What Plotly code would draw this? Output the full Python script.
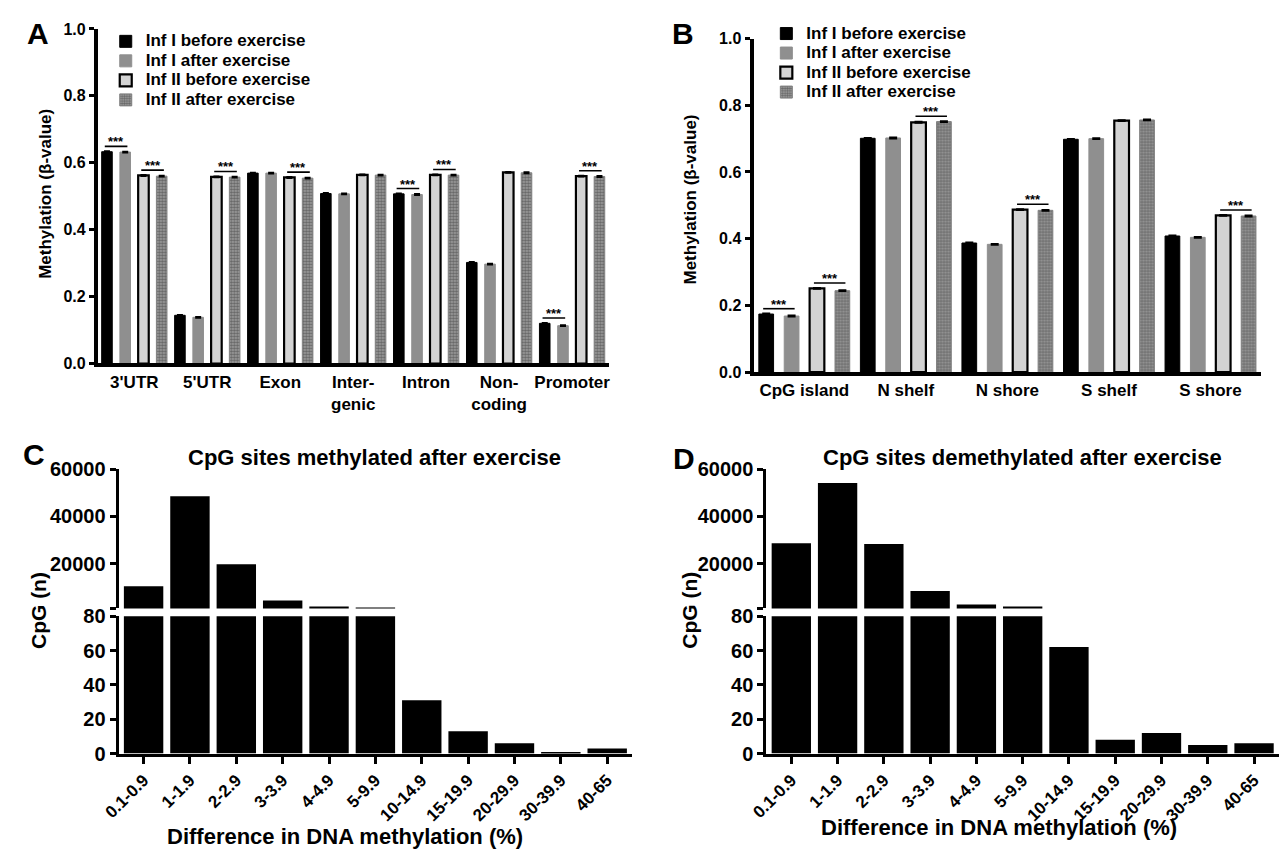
import plotly.graph_objects as go

W, H = 1282, 864
FONT = "Liberation Sans, Arial, sans-serif"

# ---------------- data ----------------
series = ["Inf I before exercise", "Inf I after exercise",
          "Inf II before exercise", "Inf II after exercise"]

regions = ["3'UTR", "5'UTR", "Exon", "Intergenic", "Intron", "Non-coding", "Promoter"]
region_ticks = ["3'UTR", "5'UTR", "Exon", "Inter-<br>genic", "Intron", "Non-<br>coding", "Promoter"]
a_inf1_before = [0.633, 0.144, 0.569, 0.508, 0.507, 0.302, 0.120]
a_inf1_after = [0.632, 0.138, 0.569, 0.507, 0.505, 0.297, 0.113]
a_inf2_before = [0.562, 0.558, 0.556, 0.564, 0.564, 0.571, 0.560]
a_inf2_after = [0.560, 0.557, 0.554, 0.563, 0.563, 0.570, 0.559]
a_sem = [0.002, 0.002, 0.002, 0.002, 0.002, 0.002, 0.002]

islands = ["CpG island", "N shelf", "N shore", "S shelf", "S shore"]
b_inf1_before = [0.174, 0.701, 0.387, 0.698, 0.408]
b_inf1_after = [0.168, 0.702, 0.383, 0.700, 0.404]
b_inf2_before = [0.251, 0.749, 0.487, 0.754, 0.470]
b_inf2_after = [0.244, 0.751, 0.485, 0.756, 0.468]
b_sem = [0.002, 0.002, 0.002, 0.002, 0.002]

# significant pairs: (category, first bar of pair: 0 = Inf I pair, 2 = Inf II pair)
sig_a = [("3'UTR", 0), ("3'UTR", 2), ("5'UTR", 2), ("Exon", 2),
         ("Intron", 0), ("Intron", 2), ("Promoter", 0), ("Promoter", 2)]
sig_b = [("CpG island", 0), ("CpG island", 2), ("N shelf", 2),
         ("N shore", 2), ("S shore", 2)]

bins = ["0.1-0.9", "1-1.9", "2-2.9", "3-3.9", "4-4.9", "5-9.9",
        "10-14.9", "15-19.9", "20-29.9", "30-39.9", "40-65"]
cpg_methylated = [10400, 48500, 19700, 4300, 1800, 1400, 31, 13, 6, 1, 3]
cpg_demethylated = [28600, 54100, 28300, 8400, 2600, 1800, 62, 8, 12, 5, 6]

# ---------------- helpers ----------------
def fx(x):
    return x / W

def fy(y):
    return 1 - y / H

def tf(size):
    return dict(family=FONT, size=size, color="black", weight="bold")

styles = [
    dict(color="#000000", line=dict(color="#000000", width=1)),
    dict(color="#8f8f8f", line=dict(color="#8f8f8f", width=1)),
    dict(color="#d3d3d3", line=dict(color="#000000", width=2.2)),
    dict(color="#8a8a8a", line=dict(color="#808080", width=1),
         pattern=dict(shape=".", fgcolor="#2e2e2e", bgcolor="#a0a0a0", size=3, solidity=0.55)),
]

def legend_name(s):
    return '<span style="font-size:17px">' + s + '</span>'

fig = go.Figure()

a_sets = [a_inf1_before, a_inf1_after, a_inf2_before, a_inf2_after]
b_sets = [b_inf1_before, b_inf1_after, b_inf2_before, b_inf2_after]

for i in range(4):
    fig.add_trace(go.Bar(
        x=regions, y=a_sets[i], name=legend_name(series[i]), marker=styles[i],
        error_y=dict(type="data", array=a_sem, color="black", thickness=1.5, width=3),
        xaxis="x", yaxis="y", legend="legend"))
for i in range(4):
    fig.add_trace(go.Bar(
        x=islands, y=b_sets[i], name=legend_name(series[i]), marker=styles[i],
        error_y=dict(type="data", array=b_sem, color="black", thickness=1.5, width=4),
        xaxis="x2", yaxis="y2", legend="legend2"))

for data, xl, yl, xu, yu in [(cpg_methylated, "x3", "y3", "x4", "y4"),
                             (cpg_demethylated, "x5", "y5", "x6", "y6")]:
    for xa, ya in [(xl, yl), (xu, yu)]:
        fig.add_trace(go.Bar(x=bins, y=data, width=0.85, showlegend=False,
                             marker=dict(color="black", line=dict(width=0)),
                             xaxis=xa, yaxis=ya))

# significance brackets
shapes = []
annotations = []

def bracket(cats, sets, cat, k, xref, yref, pad):
    idx = cats.index(cat)
    c1 = idx - 0.375 + 0.25 * k
    c2 = c1 + 0.25
    level = max(sets[k][idx], sets[k + 1][idx]) + pad
    shapes.append(dict(type="line", xref=xref, yref=yref, x0=c1 - 0.03, x1=c2 + 0.03,
                       y0=level, y1=level, line=dict(color="black", width=1.6)))
    annotations.append(dict(xref=xref, yref=yref, x=(c1 + c2) / 2, y=level, text="***",
                            showarrow=False, yanchor="bottom", yshift=-5,
                            font=dict(family=FONT, size=13, color="black", weight="bold")))

for cat, k in sig_a:
    bracket(regions, a_sets, cat, k, "x", "y", 0.016)
for cat, k in sig_b:
    bracket(islands, b_sets, cat, k, "x2", "y2", 0.016)

def text(x, y, s, size, angle=0):
    annotations.append(dict(xref="paper", yref="paper", x=fx(x), y=fy(y), text=s,
                            showarrow=False, xanchor="center", yanchor="middle",
                            textangle=angle, font=tf(size)))

text(21, 23, "A", 30)
text(675, 23, "B", 30)
text(17, 455, "C", 30)
text(676, 459, "D", 30)
text(29, 188, "Methylation (β-value)", 17, -90)
text(683, 193, "Methylation (β-value)", 17, -90)
text(22, 615, "CpG (n)", 21, -90)
text(682, 615, "CpG (n)", 21, -90)
text(363, 458, "CpG sites methylated after exercise", 22)
text(1020, 458, "CpG sites demethylated after exercise", 22)
text(333, 847, "Difference in DNA methylation (%)", 22)
text(996, 838, "Difference in DNA methylation (%)", 22)

axis_common = dict(showgrid=False, zeroline=False, linecolor="black", tickcolor="black")

layout = dict(
    width=W, height=H, margin=dict(l=0, r=0, t=0, b=0),
    paper_bgcolor="white", plot_bgcolor="white",
    font=dict(family=FONT, color="black", weight="bold"),
    barmode="group", bargap=0.0, bargroupgap=0.42,
    shapes=shapes, annotations=annotations,
    legend=dict(x=fx(90), y=fy(16), xanchor="left", yanchor="top",
                font=tf(12.7), bgcolor="rgba(0,0,0,0)", tracegroupgap=0),
    legend2=dict(x=fx(760), y=fy(8), xanchor="left", yanchor="top",
                 font=tf(12.7), bgcolor="rgba(0,0,0,0)", tracegroupgap=0),
    # Panel A
    xaxis=dict(axis_common, domain=[fx(82), fx(600)], anchor="y", type="category",
               categoryorder="array", categoryarray=regions, range=[-0.5, 6.5],
               tickmode="array", tickvals=regions, ticktext=region_ticks,
               showline=True, linewidth=4, ticks="", tickfont=tf(17)),
    yaxis=dict(axis_common, domain=[fy(361.7), fy(18.4)], anchor="x", range=[0, 1.0],
               tickvals=[0, 0.2, 0.4, 0.6, 0.8, 1.0], tickformat=".1f",
               showline=True, linewidth=4, ticks="outside", ticklen=5, tickwidth=3,
               tickfont=tf(16)),
    # Panel B
    xaxis2=dict(axis_common, domain=[fx(747), fx(1262)], anchor="y2", type="category",
                categoryorder="array", categoryarray=islands, range=[-0.5, 4.5],
                showline=True, linewidth=4, ticks="", tickfont=tf(17)),
    yaxis2=dict(axis_common, domain=[fy(370.5), fy(28.3)], anchor="x2", range=[0, 1.0],
                tickvals=[0, 0.2, 0.4, 0.6, 0.8, 1.0], tickformat=".1f",
                showline=True, linewidth=4, ticks="outside", ticklen=5, tickwidth=3,
                tickfont=tf(16)),
)

def hist_axes(xdom, xl, yl, xu, yu):
    xlow = dict(axis_common, domain=xdom, anchor=yl, type="category",
                categoryorder="array", categoryarray=bins, range=[-0.54, 10.54],
                showline=True, linewidth=3, ticks="outside", ticklen=7, tickwidth=3,
                tickangle=-45, tickfont=tf(17))
    xup = dict(axis_common, domain=xdom, anchor=yu, type="category",
               categoryorder="array", categoryarray=bins, range=[-0.54, 10.54],
               showline=False, showticklabels=False, ticks="")
    ylow = dict(axis_common, domain=[fy(762), fy(621)], anchor=xl, range=[0, 80],
                tickvals=[0, 20, 40, 60, 80], showline=True, linewidth=3,
                ticks="outside", ticklen=6, tickwidth=3, tickfont=tf(20))
    yup = dict(axis_common, domain=[fy(613), fy(470)], anchor=xu, range=[1000, 60000],
               tickvals=[1000, 20000, 40000, 60000], ticktext=["", "20000", "40000", "60000"],
               showline=True, linewidth=3, ticks="outside", ticklen=6, tickwidth=3,
               tickfont=tf(20))
    return xlow, xup, ylow, yup

x3, x4, y3, y4 = hist_axes([fx(103), fx(624)], "x3", "y3", "x4", "y4")
x5, x6, y5, y6 = hist_axes([fx(760), fx(1280)], "x5", "y5", "x6", "y6")
layout.update(xaxis3=x3, xaxis4=x4, yaxis3=y3, yaxis4=y4,
              xaxis5=x5, xaxis6=x6, yaxis5=y5, yaxis6=y6)

fig.update_layout(**layout)
fig.write_html("out.html")
